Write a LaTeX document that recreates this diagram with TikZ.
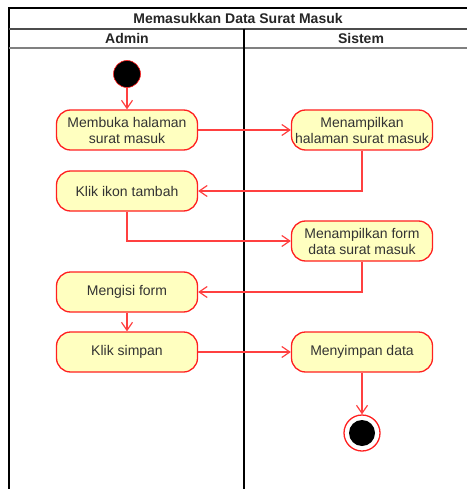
\documentclass[tikz,border=0pt]{standalone}
\usepackage{fontspec}
\setmainfont{Liberation Sans}
\usepackage{tikz}
\usetikzlibrary{arrows.meta}
\definecolor{actfill}{HTML}{FFFFC0}
\definecolor{actline}{HTML}{FF2020}
\definecolor{flowline}{HTML}{FF4040}
\tikzset{
  action/.style={draw=actline,fill=actfill,rounded corners=14pt,line width=1.3pt,
    minimum width=141pt,minimum height=40pt,inner sep=0pt,align=center,
    font=\fontsize{14}{16}\selectfont,text=black!80},
  flow/.style={draw=flowline,line width=1.2pt,-{Straight Barb[length=8pt,width=11pt]}},
  lanetext/.style={font=\fontsize{14}{16}\selectfont\bfseries,text=black!85}
}
\begin{document}
\begin{tikzpicture}[x=1pt,y=-1pt]
\useasboundingbox (0,0) rectangle (467,489);
% lanes:
\path[draw=black,line width=1.5pt] (9,489) -- (9,8) -- (467,8);
\path[draw=black!70,line width=1.5pt] (9,29) -- (467,29);
\path[draw=black!50,line width=1.5pt] (9,48) -- (467,48);
\path[draw=black,line width=1.5pt] (244,29) -- (244,489);
\node[lanetext] (judul) at (238,18.5) {Memasukkan Data Surat Masuk};
\node[lanetext] (admin) at (127,38.5) {Admin};
\node[lanetext] (sistem) at (361,38.5) {Sistem};
% actions:
\node[circle,fill=black,draw=actline,line width=0.6pt,minimum size=27pt,inner sep=0pt] (mulai) at (127,74) {};
\node[action] (bukaHal) at (127,130) {Membuka halaman\\surat masuk};
\node[action] (tampilHal) at (362,130) {Menampilkan\\halaman surat masuk};
\node[action] (klikTambah) at (127,191) {Klik ikon tambah};
\node[action] (tampilForm) at (362,241) {Menampilkan form\\data surat masuk};
\node[action] (isiForm) at (127,292) {Mengisi form};
\node[action] (klikSimpan) at (127,352) {Klik simpan};
\node[action] (simpanData) at (362,352) {Menyimpan data};
\node[circle,draw=actline,fill=white,line width=1.3pt,minimum size=36pt,inner sep=0pt] (selesai) at (362,433) {};
\node[circle,fill=black,minimum size=26pt,inner sep=0pt] (selesaiDalam) at (selesai) {};
% flows:
\draw[flow] (mulai) -- (bukaHal);
\draw[flow] (bukaHal) -- (tampilHal);
\draw[flow] (tampilHal.south) |- (klikTambah.east);
\draw[flow] (klikTambah.south) |- (tampilForm.west);
\draw[flow] (tampilForm.south) |- (isiForm.east);
\draw[flow] (isiForm) -- (klikSimpan);
\draw[flow] (klikSimpan) -- (simpanData);
\draw[flow] (simpanData) -- (selesai);
\end{tikzpicture}
\end{document}
